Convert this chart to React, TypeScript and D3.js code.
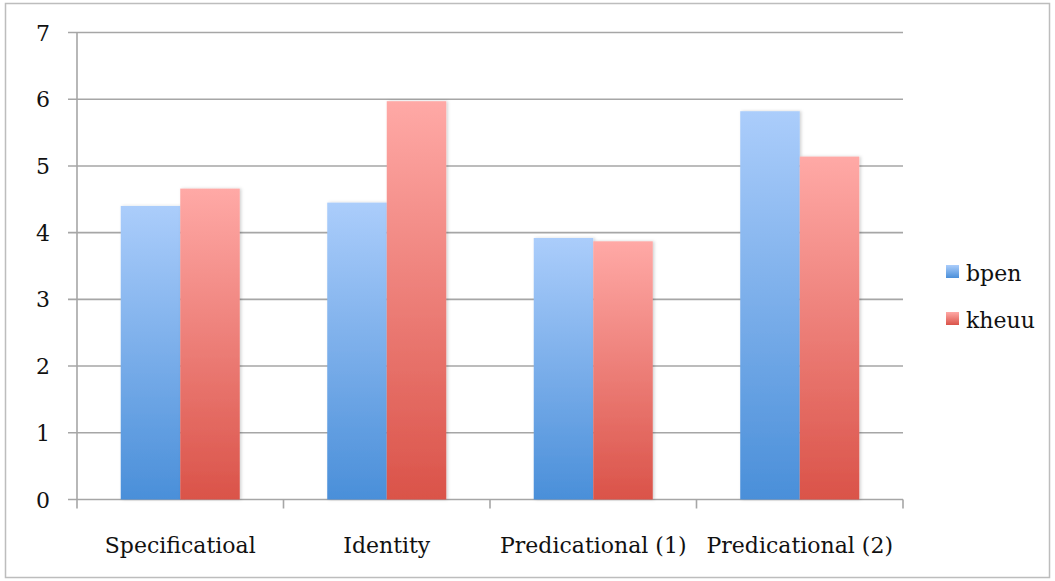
import React from "react";
import * as d3 from "d3";

const categories = ["Specificatioal", "Identity", "Predicational (1)", "Predicational (2)"];
const seriesNames = ["bpen", "kheuu"];
const bpenValues = [4.4, 4.45, 3.92, 5.82];
const kheuuValues = [4.66, 5.97, 3.87, 5.14];
const yTicks = [0, 1, 2, 3, 4, 5, 6, 7];

const W = 1055;
const H = 581;
const plot = { left: 77, right: 903, top: 32.5, bottom: 499.5 };
const FONT = "DejaVu Serif";

export default function App() {
  const x = d3.scaleBand<string>().domain(categories).range([plot.left, plot.right]).padding(0);
  const inner = d3
    .scaleBand<string>()
    .domain(seriesNames)
    .range([0, x.bandwidth()])
    .paddingInner(0)
    .paddingOuter(0.735);
  const y = d3.scaleLinear().domain([0, 7]).range([plot.bottom, plot.top]);
  const series = [
    { name: "bpen", values: bpenValues, grad: "gBlue", top: "#abcdfb", bottom: "#4a8fd9" },
    { name: "kheuu", values: kheuuValues, grad: "gRed", top: "#ffa9a6", bottom: "#da5349" },
  ];
  const grid = "#a6a6a6";
  const catEdges = [...categories.map((c) => x(c)!), plot.right];
  const textStyle = { fontFamily: FONT, fontSize: 22, fill: "#111" } as const;

  return (
    <svg
      width={W}
      height={H}
      style={{ position: "absolute", left: 0, top: 0, background: "#fff" }}
    >
      <defs>
        {series.map((s) => (
          <linearGradient key={s.grad} id={s.grad} x1="0" y1="0" x2="0" y2="1">
            <stop offset="0%" stopColor={s.top} />
            <stop offset="100%" stopColor={s.bottom} />
          </linearGradient>
        ))}
        <filter id="shadow" x="-10%" y="-10%" width="130%" height="120%">
          <feDropShadow dx="1.5" dy="0" stdDeviation="1.5" floodColor="#000" floodOpacity="0.18" />
        </filter>
      </defs>
      <rect x={5.5} y={3.5} width={1044} height={574} fill="#fff" stroke="#bdbdbd" strokeWidth={1.5} />

      {yTicks.map((t) => (
        <g key={t}>
          <line x1={plot.left - 9} x2={plot.right} y1={y(t)} y2={y(t)} stroke={grid} strokeWidth={1.6} />
          <text x={43} y={y(t) + 8} textAnchor="middle" style={textStyle}>
            {t}
          </text>
        </g>
      ))}
      <line x1={plot.left} x2={plot.left} y1={plot.top} y2={plot.bottom + 9} stroke={grid} strokeWidth={1.6} />
      {catEdges.slice(1).map((e, i) => (
        <line key={i} x1={e} x2={e} y1={plot.bottom} y2={plot.bottom + 9} stroke={grid} strokeWidth={1.6} />
      ))}

      {categories.map((c, ci) =>
        series.map((s) => (
          <rect
            key={c + s.name}
            x={x(c)! + inner(s.name)!}
            y={y(s.values[ci])}
            width={inner.bandwidth()}
            height={y(0) - y(s.values[ci])}
            fill={`url(#${s.grad})`}
            filter="url(#shadow)"
          />
        ))
      )}

      {categories.map((c) => (
        <text key={c} x={x(c)! + x.bandwidth() / 2} y={553} textAnchor="middle" style={textStyle}>
          {c}
        </text>
      ))}

      {series.map((s, i) => (
        <g key={s.name} transform={`translate(946, ${265 + i * 47})`}>
          <rect x={0} y={0} width={13} height={13} fill={`url(#${s.grad})`} />
          <text x={20} y={16} style={textStyle}>
            {s.name}
          </text>
        </g>
      ))}
    </svg>
  );
}
